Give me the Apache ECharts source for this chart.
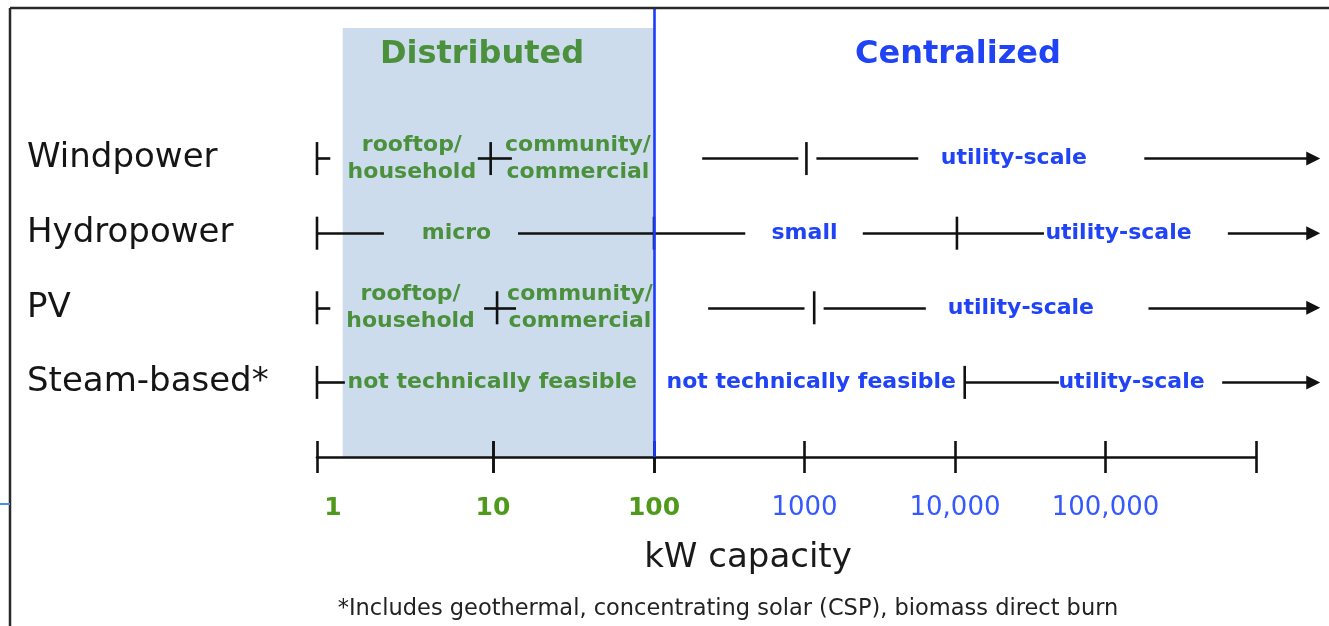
<!DOCTYPE html>
<html><head><meta charset="utf-8">
<script src="https://cdn.jsdelivr.net/npm/echarts@6/dist/echarts.min.js"></script>
<style>html,body{margin:0;padding:0;background:#fff}#c{width:1329px;height:626px}</style>
</head><body><div id="c"></div>
<script>
// ---------- data ----------
const rowNames = ['Windpower', 'Hydropower', 'PV', 'Steam-based*'];
const tickValues = [1, 10, 100, 1000, 10000, 100000];
const tickLabels = ['1', '10', '100', '1000', '10,000', '100,000'];
const splitAt = 100;                 // kW: distributed | centralized
const distributedStart = 1.4;        // kW where the shaded band starts
// plain line segments: [row, from kW, to kW]
const segments = [
  [0, 1, 1.19], [0, 8.2, 13.1], [0, 209, 910], [0, 1200, 5700],
  [1, 1, 2.4], [1, 14.3, 404], [1, 2440, 39000],
  [2, 1, 1.19], [2, 8.9, 13.9], [2, 229, 1000], [2, 1340, 6400],
  [3, 1, 1.44], [3, 11600, 49000]
];
// open-ended arrows: [row, from kW, to kW]
const arrowSegments = [
  [0, 181000, 2400000], [1, 650000, 2400000], [2, 193000, 2400000], [3, 596000, 2400000]
];
// vertical tick marks on rows: [row, kW]
const rowTicks = [
  [0, 1], [0, 9.7], [0, 1030],
  [1, 1], [1, 100], [1, 10300],
  [2, 1], [2, 10.6], [2, 1160],
  [3, 1], [3, 11600]
];
// labels on rows: [row, kW, text, group]  group: 'd' distributed (green), 'c' centralized (blue)
const rowTexts = [
  [0, 3.46, 'rooftop/\nhousehold', 'd'], [0, 33.7, 'community/\ncommercial', 'd'], [0, 24600, 'utility-scale', 'c'],
  [1, 6.2, 'micro', 'd'], [1, 1000, 'small', 'c'], [1, 122000, 'utility-scale', 'c'],
  [2, 3.4, 'rooftop/\nhousehold', 'd'], [2, 34.7, 'community/\ncommercial', 'd'], [2, 27400, 'utility-scale', 'c'],
  [3, 9.9, 'not technically feasible', 'd'], [3, 1110, 'not technically feasible', 'c'], [3, 149000, 'utility-scale', 'c']
];

// ---------- styling / layout ----------
const FF = 'DejaVu Sans';
const GREEN = '#4b903c', BLUE = '#1f43f5', INK = '#111';
const TICK_GREEN = '#4f9a1c', TICK_BLUE = '#3558ff';
// three panels of the (hand-drawn, non-uniform) log axis
const bounds = [1, 10, 100, Infinity];
const panels = [
  { left: 317, width: 176, min: 1, max: 10 },
  { left: 493, width: 161, min: 10, max: 100 },
  { left: 654, width: 602, min: 100, max: 1e6 }
];
const GRID_TOP = 28, GRID_BOTTOM_Y = 457, H = 626;
const Y_MIN = -1.75, Y_MAX = 4;
const yFrameTop = Y_MIN + (8 - GRID_TOP) / ((GRID_BOTTOM_Y - GRID_TOP) / (Y_MAX - Y_MIN));

function gridOf(v) {
  for (let i = 0; i < 3; i++) if (v >= bounds[i] && v < bounds[i + 1]) return i;
  return 2;
}
function splitSeg(seg, withArrow) {
  const out = [[], [], []];
  const [row, a, b] = seg;
  for (let i = 0; i < 3; i++) {
    const lo = Math.max(a, bounds[i]), hi = Math.min(b, bounds[i + 1]);
    if (hi > lo) out[i].push({ coords: [[lo, row], [hi, row]], arrow: withArrow && hi === b });
  }
  return out;
}

const grid = panels.map(p => ({ left: p.left, width: p.width, top: GRID_TOP, bottom: H - GRID_BOTTOM_Y }));
const xAxis = [], yAxis = [], series = [];
const labelRich = {
  first: { fontFamily: FF, fontWeight: 'bold', fontSize: 25, color: TICK_GREEN, lineHeight: 28, padding: [0, 0, 0, 32] },
  g: { fontFamily: FF, fontWeight: 'bold', fontSize: 25, color: TICK_GREEN, lineHeight: 28 },
  b: { fontFamily: FF, fontSize: 26, color: TICK_BLUE, lineHeight: 28 }
};

panels.forEach((p, i) => {
  const lo = bounds[i], hi = bounds[i + 1];
  const fmt = v => {
    const k = Math.round(Math.log10(v));
    const idx = tickValues.findIndex(t => Math.round(Math.log10(t)) === k);
    if (idx < 0) return '';
    const t = tickValues[idx];
    if (t < lo || t >= hi) return '';
    const lbl = tickLabels[idx];
    if (idx === 0) return '{first|' + lbl + '}';
    return (t <= splitAt ? '{g|' : '{b|') + lbl + '}';
  };
  const base = {
    gridIndex: i, type: 'log', logBase: 10, min: p.min, max: p.max, position: 'bottom',
    splitNumber: 6, splitLine: { show: false }, minorTick: { show: false }, z: 4
  };
  xAxis.push(Object.assign({}, base, {
    axisLine: { show: true, onZero: false, lineStyle: { color: INK, width: 2.6 } },
    axisTick: { show: true, inside: false, length: 16, lineStyle: { color: INK, width: 2.6 } },
    axisLabel: { show: true, margin: 37, formatter: fmt, rich: labelRich }
  }));
  xAxis.push(Object.assign({}, base, {
    axisLine: { show: false, onZero: false },
    axisTick: { show: true, inside: true, length: 16, lineStyle: { color: INK, width: 2.6 } },
    axisLabel: { show: false }
  }));
  yAxis.push({
    gridIndex: i, type: 'value', inverse: true, min: Y_MIN, max: Y_MAX, show: i === 0,
    axisLine: { show: false, onZero: false }, axisTick: { show: false }, splitLine: { show: false },
    axisLabel: {
      show: i === 0, customValues: [0, 1, 2, 3], formatter: v => rowNames[Math.round(v)] || '',
      align: 'left', margin: 290, fontFamily: FF, fontSize: 34, color: '#151515'
    }
  });

  const plain = [], arrows = [];
  segments.forEach(s => splitSeg(s, false)[i].forEach(d => plain.push({ coords: d.coords })));
  arrowSegments.forEach(s => splitSeg(s, true)[i].forEach(d => (d.arrow ? arrows : plain).push({ coords: d.coords })));

  const bandLo = Math.max(distributedStart, lo), bandHi = Math.min(splitAt, hi);
  series.push({
    type: 'lines', coordinateSystem: 'cartesian2d', xAxisIndex: 2 * i, yAxisIndex: i,
    polyline: false, clip: false, silent: true, z: 3,
    lineStyle: { color: INK, width: 2.6, opacity: 1 }, symbol: 'none',
    data: plain,
    markArea: bandHi > bandLo ? {
      silent: true, z: 1,
      itemStyle: { color: '#cddcec', opacity: 1 },
      data: [[{ xAxis: bandLo }, { xAxis: bandHi }]]
    } : undefined
  });
  if (arrows.length) series.push({
    type: 'lines', coordinateSystem: 'cartesian2d', xAxisIndex: 2 * i, yAxisIndex: i,
    polyline: false, clip: false, silent: true, z: 3,
    lineStyle: { color: INK, width: 2.6, opacity: 1 },
    symbol: ['none', 'triangle'], symbolSize: 14,
    data: arrows
  });
  series.push({
    type: 'scatter', xAxisIndex: 2 * i, yAxisIndex: i, clip: false, silent: true, z: 4,
    symbol: 'rect', symbolSize: [2.6, 33], itemStyle: { color: INK, opacity: 1 },
    data: rowTicks.filter(t => gridOf(t[1]) === i).map(t => [t[1], t[0]])
  });
  series.push({
    type: 'scatter', xAxisIndex: 2 * i, yAxisIndex: i, clip: false, silent: true, z: 5,
    symbolSize: 1, itemStyle: { color: 'rgba(0,0,0,0)', opacity: 1 },
    label: { show: true, position: 'inside', formatter: '{b}', fontFamily: FF, fontWeight: 'bold', fontSize: 22, lineHeight: 27 },
    data: rowTexts.filter(t => gridOf(t[1]) === i).map(t => ({
      name: t[2], value: [t[1], t[0]], label: { color: t[3] === 'd' ? GREEN : BLUE }
    }))
  });
});

// distributed / centralized boundary
series.push({
  type: 'lines', coordinateSystem: 'cartesian2d', xAxisIndex: 4, yAxisIndex: 2,
  polyline: false, clip: false, silent: true, z: 6,
  lineStyle: { color: '#1b3cff', width: 2.6, opacity: 1 }, symbol: 'none',
  data: [{ coords: [[splitAt, yFrameTop], [splitAt, Y_MAX]] }]
});

const option = {
  animation: false,
  backgroundColor: '#fff',
  grid, xAxis, yAxis, series,
  graphic: [
    { type: 'line', z: 100, shape: { x1: 10, y1: 8, x2: 1329, y2: 8 }, style: { stroke: '#2a2a2a', lineWidth: 2.5 }, silent: true },
    { type: 'line', z: 100, shape: { x1: 10, y1: 8, x2: 10, y2: 626 }, style: { stroke: '#2a2a2a', lineWidth: 2.5 }, silent: true },
    { type: 'line', z: 100, shape: { x1: 0, y1: 504, x2: 10, y2: 504 }, style: { stroke: '#4a8fe0', lineWidth: 2 }, silent: true },
    { type: 'text', z: 100, x: 482, y: 55, silent: true, style: { text: 'Distributed', font: 'bold 32px "DejaVu Sans"', fill: GREEN, align: 'center', verticalAlign: 'middle' } },
    { type: 'text', z: 100, x: 958, y: 55, silent: true, style: { text: 'Centralized', font: 'bold 32px "DejaVu Sans"', fill: BLUE, align: 'center', verticalAlign: 'middle' } },
    { type: 'text', z: 100, x: 748, y: 558, silent: true, style: { text: 'kW capacity', font: '34px "DejaVu Sans"', fill: '#1a1a1a', align: 'center', verticalAlign: 'middle' } },
    { type: 'text', z: 100, x: 728, y: 609, silent: true, style: { text: '*Includes geothermal, concentrating solar (CSP), biomass direct burn', font: '22.5px "DejaVu Sans"', fill: '#222', align: 'center', verticalAlign: 'middle' } }
  ]
};
echarts.init(document.getElementById('c'), null, { renderer: 'canvas' }).setOption(option);
</script></body></html>
